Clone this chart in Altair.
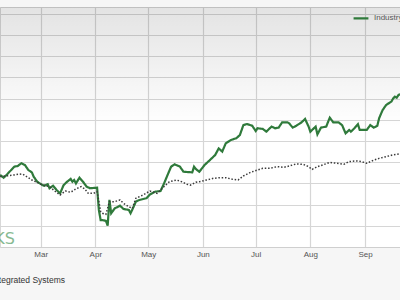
import altair as alt
import pandas as pd

# Day offsets relative to 2025-03-01 and values (chart units)
ind_day = [-23, -21, -19, -15, -13, -11, -9, -7, -5, -4, -2, 1, 2, 4, 5, 7, 9, 11, 13, 15,
           17, 18, 19, 20, 22, 24, 26, 28, 32, 33, 34, 35, 37, 38, 39, 40, 42, 45, 47, 50,
           51, 53, 54, 56, 60, 62, 65, 68, 70, 72, 74, 76, 79, 81, 86, 87, 88, 90, 93, 96,
           99, 101, 103, 105, 108, 111, 113, 115, 117, 120, 122, 123, 126, 128, 131, 133, 135, 137, 140, 141,
           143, 145, 148, 150, 152, 153, 156, 157, 159, 162, 164, 166, 169, 171, 173, 175, 176, 178, 180, 181,
           185, 187, 189, 191, 192, 194, 196, 199, 200, 201, 202, 203, 204]
ind_val = [34.0, 32.7, 34.3, 37.9, 38.2, 39.5, 38.7, 36.3, 35.2, 33.2, 30.8, 29.2, 28.9, 29.6, 27.7, 28.9, 26.9, 25.3, 29.2, 30.8,
           32.1, 30.8, 31.6, 30.0, 32.7, 30.8, 28.5, 27.7, 28.0, 17.5, 12.7, 12.7, 12.3, 10.1, 22.2, 15.9, 18.2, 19.5, 17.9, 17.5,
           15.9, 19.5, 21.4, 22.2, 23.0, 24.8, 26.1, 26.4, 30.0, 34.0, 37.9, 39.0, 37.9, 35.5, 35.2, 37.9, 36.8, 35.5, 38.7, 41.0,
           43.4, 46.5, 45.0, 48.9, 50.5, 51.3, 52.8, 57.5, 58.0, 57.2, 54.7, 56.0, 55.7, 54.4, 56.8, 56.0, 56.3, 58.8, 58.8, 58.3,
           56.3, 57.2, 58.8, 60.4, 56.8, 54.4, 56.8, 53.1, 56.3, 56.8, 61.0, 58.8, 58.8, 57.5, 53.6, 55.2, 54.4, 56.0, 57.9, 55.2,
           55.2, 57.5, 56.3, 57.2, 60.7, 64.6, 67.0, 68.6, 70.1, 70.9, 70.4, 71.7, 72.0]

sp_day = [-23, -19, -15, -12, -10, -8, -5, -2, 1, 5, 8, 11, 14, 17, 20, 23, 25, 27, 30, 32,
          34, 35, 37, 39, 42, 45, 47, 50, 52, 54, 58, 62, 66, 70, 73, 77, 80, 83, 85, 88,
          90, 94, 98, 102, 105, 109, 112, 115, 119, 123, 126, 130, 134, 138, 141, 145, 149, 152, 154, 157,
          160, 164, 168, 172, 175, 179, 182, 185, 189, 192, 196, 200, 204]
sp_val = [33.2, 33.6, 34.0, 34.4, 34.3, 33.2, 31.6, 30.5, 29.2, 28.5, 26.4, 24.5, 26.4, 25.8, 27.4, 28.5, 27.4, 25.3, 25.3, 26.1,
          16.7, 15.9, 15.4, 21.4, 21.4, 22.2, 20.6, 19.0, 18.2, 23.0, 24.5, 26.4, 25.3, 28.5, 30.8, 31.6, 30.8, 29.6, 29.2, 30.5,
          30.8, 31.6, 32.4, 32.7, 32.7, 31.9, 31.6, 33.5, 35.2, 36.3, 37.1, 37.1, 37.9, 37.6, 38.2, 39.2, 39.0, 37.9, 36.6, 37.9,
          38.7, 39.9, 39.5, 39.0, 40.3, 40.6, 40.3, 39.5, 41.0, 41.8, 42.6, 43.5, 44.0]

series_names = ["Industry", "S&P 500"]
grid_values = [0, 10, 20, 30, 40, 50, 60, 70, 80, 90, 100, 110]

base = pd.Timestamp("2025-03-01")


def to_dates(days):
    return [(base + pd.Timedelta(days=d)).strftime("%Y-%m-%d") for d in days]


df = pd.concat([
    pd.DataFrame({"date": to_dates(ind_day), "value": ind_val, "series": series_names[0]}),
    pd.DataFrame({"date": to_dates(sp_day), "value": sp_val, "series": series_names[1]}),
])

t0 = int((pd.Timestamp("2025-03-01", tz="UTC") + pd.Timedelta(days=-23.09)).value // 10**6)
t1 = int((pd.Timestamp("2025-03-01", tz="UTC") + pd.Timedelta(days=203.86)).value // 10**6)

x = alt.X("date:T", scale=alt.Scale(type="utc", domain=[t0, t1]),
          axis=alt.Axis(format="%b", tickCount={"interval": "month", "step": 1}, grid=True,
                        gridColor="#d6d6d6", gridWidth=1.2, ticks=False, domainColor="#cfcfcf",
                        labelFontSize=8, labelColor="#555555", labelPadding=3,
                        labelFont="Liberation Sans", title=None))
y = alt.Y("value:Q", scale=alt.Scale(domain=[0, 113.2], nice=False, zero=False),
          axis=alt.Axis(values=grid_values, labels=False, ticks=False, domain=False,
                        gridColor="#d6d6d6", gridWidth=1.2, title=None))

shade = alt.Chart(pd.DataFrame({"k": [0]})).mark_rect(
    fill=alt.Gradient(gradient="linear", x1=0, y1=0, x2=0, y2=1,
                      stops=[alt.GradientStop(offset=0, color="rgba(0,0,0,0.11)"),
                             alt.GradientStop(offset=0.5, color="rgba(0,0,0,0)"),
                             alt.GradientStop(offset=1, color="rgba(0,0,0,0)")])
).encode(x=alt.value(0), x2=alt.value(400), y=alt.value(0), y2=alt.value(240))

lines = alt.Chart(df).mark_line(clip=True, interpolate="linear").encode(
    x=x, y=y,
    color=alt.Color("series:N", scale=alt.Scale(domain=series_names, range=["#2f7a3b", "#3a3a3a"]),
                    legend=alt.Legend(orient="none", legendX=352, legendY=2, direction="horizontal",
                                      title=None, symbolType="stroke", symbolSize=220,
                                      symbolStrokeWidth=2, labelFontSize=8, labelColor="#555555",
                                      labelFont="Liberation Sans", columnPadding=20)),
    strokeDash=alt.StrokeDash("series:N", scale=alt.Scale(domain=series_names, range=[[1, 0], [1.5, 1.8]]),
                              legend=None),
    strokeWidth=alt.StrokeWidth("series:N", scale=alt.Scale(domain=series_names, range=[2.2, 1.5]),
                                legend=None),
    order=alt.Order("date:T"),
)

watermark = alt.Chart(pd.DataFrame({"t": ["ZACKS"]})).mark_text(
    align="right", baseline="alphabetic", fontSize=16, font="DejaVu Sans",
    color="#6aaa78", opacity=0.8
).encode(x=alt.value(15), y=alt.value(237), text="t:N")

footer = alt.Chart(pd.DataFrame({"t": ["Computer - Integrated Systems"]})).mark_text(
    align="right", baseline="alphabetic", fontSize=8.5, font="Liberation Sans", color="#333333"
).encode(x=alt.value(65), y=alt.value(276), text="t:N")

chart = alt.layer(shade, lines, watermark, footer).properties(
    width=400, height=240,
    autosize=alt.AutoSizeParams(type="none"),
    padding={"left": 0, "top": 7, "right": 0, "bottom": 53},
    background="#f6f6f6",
).configure_view(
    stroke="#d8d8d8",
    fill="#ffffff",
)

chart.save("out.html", embed_options={"renderer": "svg", "actions": False})
